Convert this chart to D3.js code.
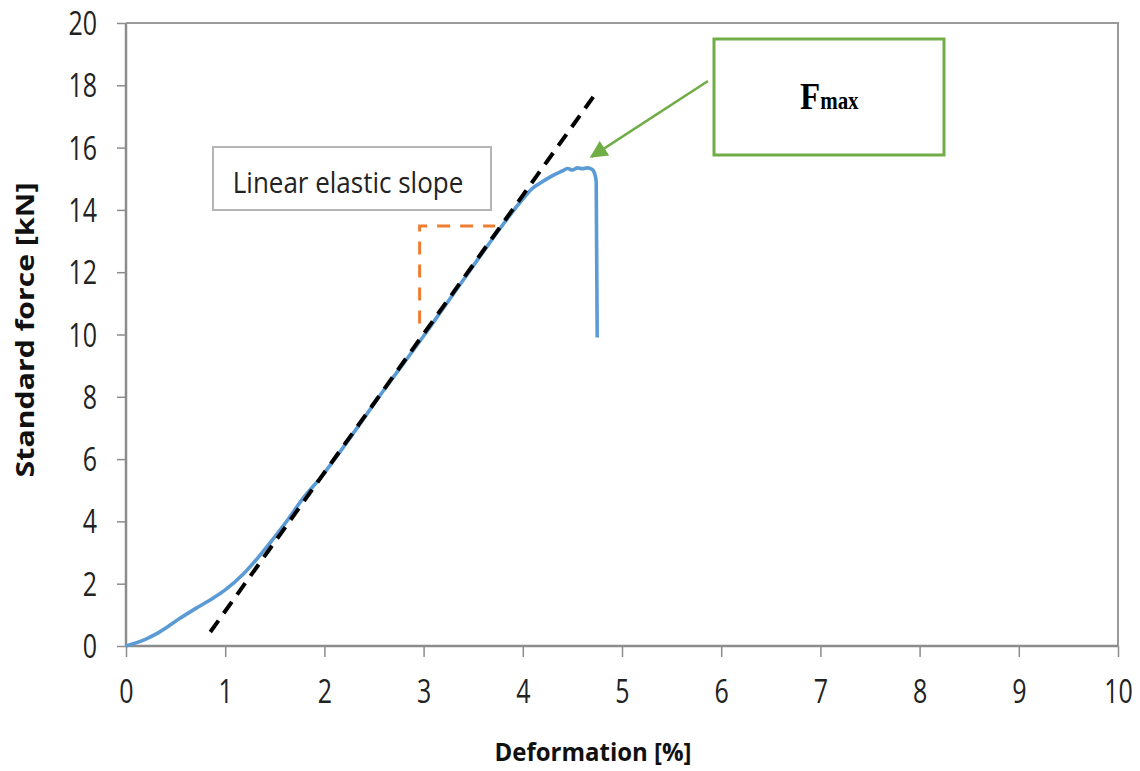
<!DOCTYPE html>
<html>
<head>
<meta charset="utf-8">
<script src="https://cdn.jsdelivr.net/npm/d3@7"></script>
<style>
  html, body { margin: 0; padding: 0; background: #fff; }
  svg { display: block; }
</style>
</head>
<body>
<svg id="chart" width="1140" height="771"></svg>
<script>
// Measured force-deformation curve of the specimen
const deformation = [0, 0.1, 0.2, 0.3, 0.42, 0.54, 0.7, 0.88, 1.0, 1.18, 1.3, 1.45, 1.6, 1.8, 1.96, 2.2, 2.4, 2.6, 2.8, 3.0, 3.2, 3.4, 3.6, 3.84, 4.0, 4.1, 4.17, 4.3, 4.4, 4.45, 4.5, 4.55, 4.6, 4.65, 4.7, 4.73, 4.74, 4.75];
const force       = [0, 0.1, 0.22, 0.38, 0.62, 0.88, 1.2, 1.54, 1.8, 2.3, 2.72, 3.3, 3.92, 4.8, 5.4, 6.42, 7.32, 8.22, 9.08, 9.95, 10.85, 11.75, 12.65, 13.7, 14.35, 14.7, 14.85, 15.1, 15.25, 15.33, 15.28, 15.35, 15.32, 15.35, 15.3, 15.1, 14.9, 9.9];

// Linear elastic slope (tangent line) end points
const slopeX = [0.85, 4.76];
const slopeY = [0.45, 17.85];

// Slope triangle guide
const guideX = [2.96, 2.96, 3.72];
const guideY = [10.35, 13.48, 13.48];

// Peak annotation target
const peakX = [4.7];
const peakY = [15.35];

const xTicks = [0, 1, 2, 3, 4, 5, 6, 7, 8, 9, 10];
const yTicks = [0, 2, 4, 6, 8, 10, 12, 14, 16, 18, 20];

const svg = d3.select("#chart");
const plotLeft = 126, plotRight = 1118, plotTop = 23, plotBottom = 646;

const x = d3.scaleLinear().domain([0, 10]).range([plotLeft, plotRight]);
const y = d3.scaleLinear().domain([0, 20]).range([plotBottom, plotTop]);

const axisColor = "#8c8c8c";
const labelFont = "'Open Sans', Lato, sans-serif";
const textStretch = 1.3;   // tall, narrow lettering of the labels

// Plot frame (top and right)
svg.append("path")
  .attr("d", `M${plotLeft},${plotTop}H${plotRight}V${plotBottom}`)
  .attr("fill", "none").attr("stroke", "#9a9a9a").attr("stroke-width", 2);

// Axes
const xAxis = svg.append("g").attr("transform", `translate(0,${plotBottom})`)
  .call(d3.axisBottom(x).tickValues(xTicks).tickSize(11).tickPadding(22).tickFormat(d3.format("d")));
const yAxis = svg.append("g").attr("transform", `translate(${plotLeft},0)`)
  .call(d3.axisLeft(y).tickValues(yTicks).tickSize(9).tickPadding(20).tickFormat(d3.format("d")));

[xAxis, yAxis].forEach(g => {
  g.select(".domain").attr("stroke", axisColor).attr("stroke-width", 2.5);
  g.selectAll(".tick line").attr("stroke", axisColor).attr("stroke-width", 1.5);
  g.selectAll(".tick text").attr("fill", "#222").attr("font-size", 25)
    .attr("font-family", labelFont)
    .attr("dy", null)
    .attr("transform", `scale(1,${textStretch})`);
});
xAxis.selectAll(".tick text").attr("y", 57 / textStretch);
yAxis.selectAll(".tick text").attr("y", 11.5 / textStretch);
xAxis.select(".domain").attr("d", `M${plotLeft},0H${plotRight}`);
yAxis.select(".domain").attr("d", `M0,${plotBottom}V${plotTop}`);

// Axis titles
svg.append("text")
  .attr("transform", "translate(593,761) scale(1,1.05)")
  .attr("text-anchor", "middle")
  .attr("font-family", labelFont)
  .attr("font-weight", "bold").attr("font-size", 24).attr("fill", "#111")
  .text("Deformation [%]");
svg.append("text")
  .attr("transform", "translate(34,330) rotate(-90) scale(1.26,1.05)")
  .attr("text-anchor", "middle")
  .attr("font-family", labelFont)
  .attr("font-weight", "bold").attr("font-size", 24).attr("fill", "#111")
  .text("Standard force [kN]");

// Slope triangle guide
svg.append("path")
  .datum(d3.zip(guideX, guideY))
  .attr("d", d3.line().x(d => x(d[0])).y(d => y(d[1])))
  .attr("fill", "none").attr("stroke", "#ed7d31")
  .attr("stroke-width", 3).attr("stroke-dasharray", "13,10");

// Force-deformation curve
svg.append("path")
  .datum(d3.zip(deformation, force))
  .attr("d", d3.line().curve(d3.curveMonotoneX).x(d => x(d[0])).y(d => y(d[1])))
  .attr("fill", "none").attr("stroke", "#5b9bd5")
  .attr("stroke-width", 3.6).attr("stroke-linejoin", "round");

// Linear elastic tangent
svg.append("path")
  .datum(d3.zip(slopeX, slopeY))
  .attr("d", d3.line().x(d => x(d[0])).y(d => y(d[1])))
  .attr("fill", "none").attr("stroke", "#000")
  .attr("stroke-width", 4).attr("stroke-dasharray", "14,9");

// "Linear elastic slope" label box
svg.append("rect")
  .attr("x", 213).attr("y", 147).attr("width", 278).attr("height", 63)
  .attr("fill", "#fff").attr("stroke", "#b5b5b5").attr("stroke-width", 2);
svg.append("text")
  .attr("transform", "translate(348,193) scale(1,1.15)")
  .attr("text-anchor", "middle")
  .attr("font-family", labelFont)
  .attr("font-size", 26).attr("fill", "#222")
  .text("Linear elastic slope");

// Fmax callout
svg.append("defs").append("marker")
  .attr("id", "arrowHead").attr("viewBox", "0 0 10 10")
  .attr("refX", 9).attr("refY", 5)
  .attr("markerWidth", 8).attr("markerHeight", 7)
  .attr("markerUnits", "strokeWidth")
  .attr("orient", "auto")
  .append("path").attr("d", "M0,0L10,5L0,10z").attr("fill", "#70ad47");

svg.append("line")
  .attr("x1", 708).attr("y1", 81)
  .attr("x2", x(peakX[0]) - 1).attr("y2", y(peakY[0]) - 11)
  .attr("stroke", "#70ad47").attr("stroke-width", 2.5)
  .attr("marker-end", "url(#arrowHead)");

svg.append("rect")
  .attr("x", 714).attr("y", 39).attr("width", 230).attr("height", 116)
  .attr("fill", "#fff").attr("stroke", "#70ad47").attr("stroke-width", 3);
const fText = svg.append("text")
  .attr("transform", "translate(800,109) scale(1,1.15)")
  .attr("font-family", "'Liberation Serif', 'DejaVu Serif', serif")
  .attr("font-weight", "bold").attr("fill", "#000");
fText.append("tspan").attr("font-size", 33).text("F");
fText.append("tspan").attr("font-size", 21).text("max");
</script>
</body>
</html>
